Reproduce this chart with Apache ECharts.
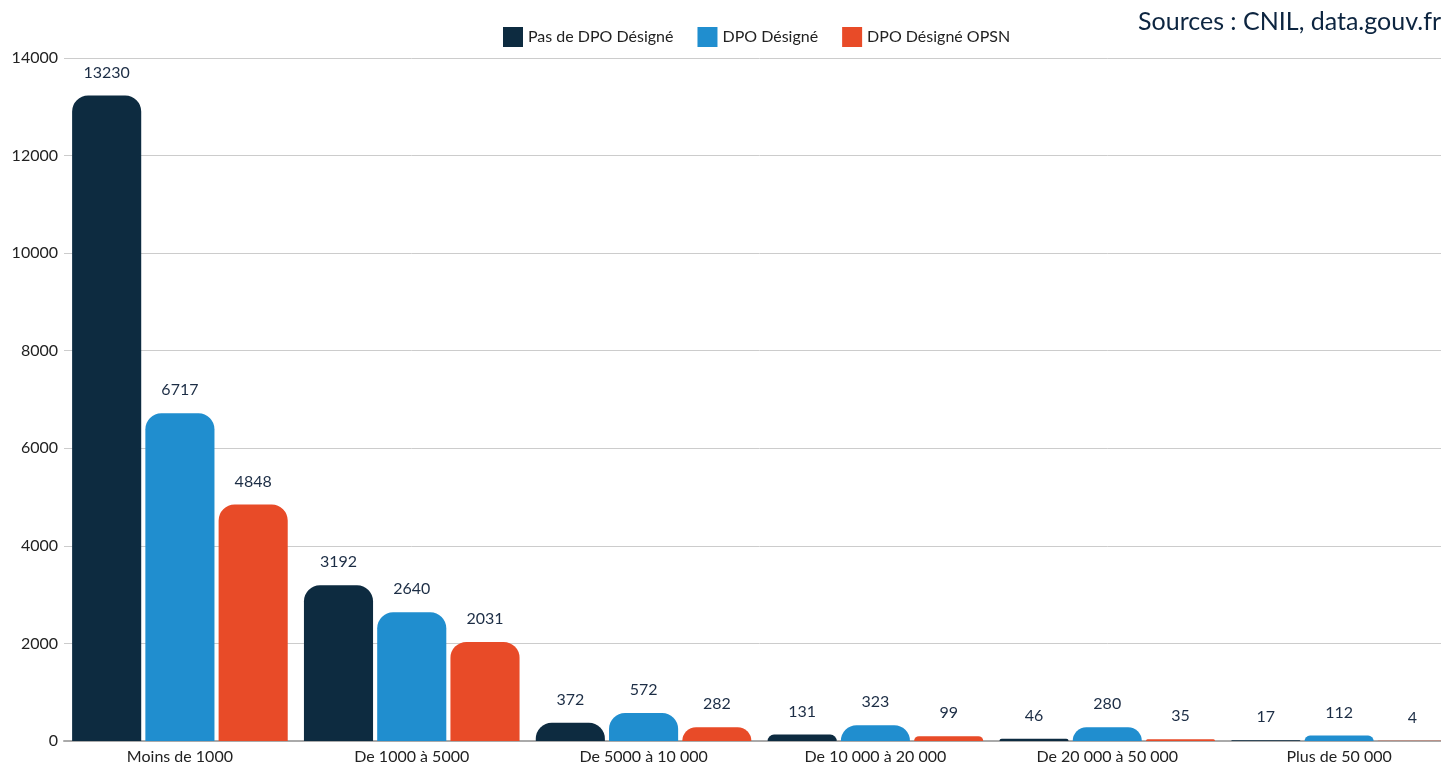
<!DOCTYPE html>
<html>
<head>
<meta charset="utf-8">
<script src="https://cdn.jsdelivr.net/npm/echarts@6/dist/echarts.min.js"></script>
<style>
html,body{margin:0;padding:0;background:#fff;overflow:hidden;}
#chart{width:1455px;height:765px;}
</style>
</head>
<body>
<div id="chart"></div>
<script>
const categories = ['Moins de 1000', 'De 1000 à 5000', 'De 5000 à 10 000', 'De 10 000 à 20 000', 'De 20 000 à 50 000', 'Plus de 50 000'];
const seriesNames = ['Pas de DPO Désigné', 'DPO Désigné', 'DPO Désigné OPSN'];
const pasDeDPO = [13230, 3192, 372, 131, 46, 17];
const dpoDesigne = [6717, 2640, 572, 323, 280, 112];
const dpoOPSN = [4848, 2031, 282, 99, 35, 4];
const yTicks = [0, 2000, 4000, 6000, 8000, 10000, 12000, 14000];
const sourceText = 'Sources : CNIL, data.gouv.fr';

const colors = ['#0d2b40', '#208ecf', '#e84b28'];
const FONT = 'Lato, "Open Sans", sans-serif';

const chart = echarts.init(document.getElementById('chart'));

function mk(name, data, color) {
  return {
    name: name,
    type: 'bar',
    data: data,
    barGap: '6%',
    barCategoryGap: '7%',
    itemStyle: { color: color, borderRadius: [16, 16, 0, 0] },
    label: {
      show: true,
      position: 'top',
      distance: 15,
      color: '#1c2d45',
      fontSize: 16,
      fontFamily: FONT
    }
  };
}

chart.setOption({
  animation: false,
  color: colors,
  textStyle: { fontFamily: FONT },
  grid: { left: 64, right: 0, top: 58, bottom: 24, containLabel: false },
  legend: {
    data: seriesNames,
    left: 498,
    top: 22,
    itemWidth: 20,
    itemHeight: 20,
    itemGap: 24,
    icon: 'rect',
    textStyle: { fontSize: 16, color: '#222', fontFamily: FONT }
  },
  graphic: [{
    type: 'text',
    right: 14,
    top: 9,
    style: { text: sourceText, fontSize: 25, fill: '#0d2540', fontFamily: FONT }
  }],
  xAxis: {
    type: 'category',
    data: categories,
    axisTick: { show: false },
    axisLine: { lineStyle: { color: '#aaaaaa', width: 2 } },
    axisLabel: { color: '#222', fontSize: 16, margin: 8, fontFamily: FONT }
  },
  yAxis: {
    type: 'value',
    min: yTicks[0],
    max: yTicks[yTicks.length - 1],
    interval: yTicks[1] - yTicks[0],
    axisLine: { show: false },
    axisTick: { show: false },
    splitLine: { lineStyle: { color: '#cccccc' } },
    axisLabel: { color: '#222', fontSize: 16, margin: 6, fontFamily: FONT, formatter: function (v) { return String(v); } }
  },
  series: [
    mk(seriesNames[0], pasDeDPO, colors[0]),
    mk(seriesNames[1], dpoDesigne, colors[1]),
    mk(seriesNames[2], dpoOPSN, colors[2])
  ]
});
</script>
</body>
</html>
